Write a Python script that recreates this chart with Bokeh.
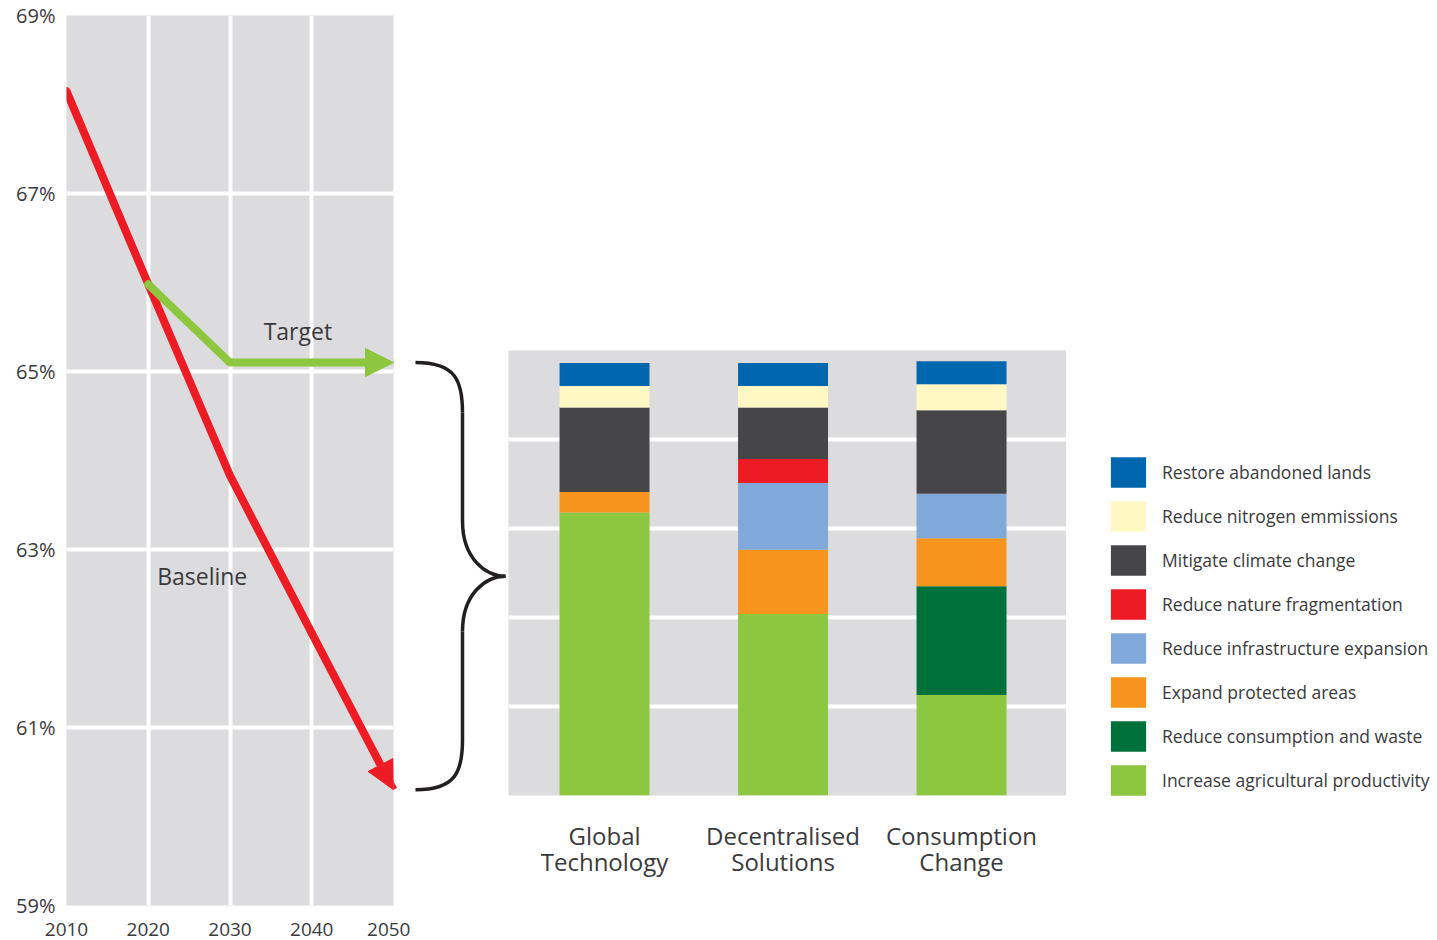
from bokeh.plotting import figure
from bokeh.models import (Range1d, FixedTicker, Arrow, NormalHead, Legend,
                          LegendItem, ColumnDataSource)
from bokeh.layouts import row
from bokeh.embed import file_html
from bokeh.resources import INLINE
from bokeh.core.properties import value

FONT = "Open Sans"
TEXT = "#3a3a3c"
BG = "#dcdcde"
RED = "#ed1c24"
LIME = "#8dc63f"

# ---------------- data: left panel ----------------
years = [2010, 2020, 2030, 2040, 2050]
baseline = [68.15, 65.98, 63.83, 62.06, 60.30]
target_years = [2020, 2030, 2040, 2050]
target = [65.98, 65.10, 65.10, 65.10]
y_ticks = [59, 61, 63, 65, 67, 69]
y_tick_labels = ["59%", "61%", "63%", "65%", "67%", "69%"]
x_ticks = [2010, 2020, 2030, 2040, 2050]
x_grid = [2020, 2030, 2040]
y_grid = [61, 63, 65, 67]
target_label_pos = (2038.3, 65.45)
baseline_label_pos = (2026.6, 62.70)

# ---------------- data: stacked bars ----------------
scenarios = ["Global\nTechnology", "Decentralised\nSolutions", "Consumption\nChange"]
# bottom-up stacking order
measures = ["Increase agricultural productivity", "Reduce consumption and waste",
            "Expand protected areas", "Reduce infrastructure expansion",
            "Reduce nature fragmentation", "Mitigate climate change",
            "Reduce nitrogen emmissions", "Restore abandoned lands"]
agriculture = [3.18, 2.04, 1.13]
consumption = [0.00, 0.00, 1.22]
protected = [0.23, 0.72, 0.54]
infrastructure = [0.00, 0.75, 0.50]
fragmentation = [0.00, 0.27, 0.00]
climate = [0.95, 0.58, 0.94]
nitrogen = [0.24, 0.24, 0.29]
restore = [0.26, 0.26, 0.26]
colors = ["#8dc63f", "#00713a", "#f7941d", "#80a8d8",
          "#ed1c24", "#464648", "#fff8c4", "#0066ae"]
bar_grid = [1, 2, 3, 4]

H = 940
W1, W2, W4 = 410, 98, 371
W3 = 1437 - W1 - W2 - W4

# ---------------- left: line chart ----------------
p1 = figure(width=W1, height=H, x_range=Range1d(2010, 2050), y_range=Range1d(59, 69),
            output_backend="svg", toolbar_location=None, frame_align=False,
            min_border_left=66, min_border_right=17, min_border_top=15, min_border_bottom=35)
p1.background_fill_color = BG
p1.border_fill_color = "white"
p1.outline_line_color = None
p1.xaxis.ticker = FixedTicker(ticks=x_ticks)
p1.yaxis.ticker = FixedTicker(ticks=y_ticks)
p1.yaxis.major_label_overrides = {t: l for t, l in zip(y_ticks, y_tick_labels)}
for ax in p1.axis:
    ax.axis_line_color = None
    ax.major_tick_line_color = None
    ax.minor_tick_line_color = None
    ax.major_label_text_font = FONT
    ax.major_label_text_color = TEXT
p1.xaxis.major_label_text_font_size = "19px"
p1.yaxis.major_label_text_font_size = "20px"
p1.xaxis.major_label_standoff = 11
p1.yaxis.major_label_standoff = 5
p1.xgrid.ticker = FixedTicker(ticks=x_grid)
p1.ygrid.ticker = FixedTicker(ticks=y_grid)
p1.grid.grid_line_color = "white"
p1.grid.grid_line_width = 4

p1.line(years[:-1], baseline[:-1], line_color=RED, line_width=8,
        line_cap="round", line_join="round")
p1.add_layout(Arrow(end=NormalHead(size=28, fill_color=RED, line_color=RED),
                    x_start=years[-2], y_start=baseline[-2],
                    x_end=years[-1], y_end=baseline[-1],
                    line_color=RED, line_width=8))
p1.line(target_years[:-1], target[:-1], line_color=LIME, line_width=8,
        line_cap="round", line_join="round")
p1.add_layout(Arrow(end=NormalHead(size=28, fill_color=LIME, line_color=LIME),
                    x_start=target_years[-2], y_start=target[-2],
                    x_end=target_years[-1], y_end=target[-1],
                    line_color=LIME, line_width=8))
p1.text(x=[target_label_pos[0], baseline_label_pos[0]],
        y=[target_label_pos[1], baseline_label_pos[1]],
        text=["Target", "Baseline"], text_font=value(FONT), text_font_size="23px",
        text_color=TEXT, text_align="center", text_baseline="middle")

# ---------------- middle: brace ----------------
top, bot = target[-1], baseline[-1]
mid = (top + bot) / 2
p2 = figure(width=W2, height=H, x_range=Range1d(0, W2), y_range=Range1d(59, 69),
            output_backend="svg", toolbar_location=None, frame_align=False,
            x_axis_location=None, y_axis_location=None,
            min_border_left=0, min_border_right=0, min_border_top=15, min_border_bottom=35)
p2.grid.visible = False
p2.outline_line_color = None
p2.background_fill_color = "white"
xl, xm, xt = 5, 52, 95
hk, tc = 0.56, 0.62
BR = "#231f20"
p2.bezier(x0=[xl, xm, xt, xm], y0=[top, mid + tc, mid, bot + hk],
          x1=[xm, xt, xm, xl], y1=[top - hk, mid, mid - tc, bot],
          cx0=[45, xm, 75, xm], cy0=[top, mid + 0.2, mid, bot + 0.2],
          cx1=[xm, 75, xm, 45], cy1=[top - 0.2, mid, mid - 0.2, bot],
          line_color=BR, line_width=3.5)
p2.segment(x0=[xm, xm], y0=[top - hk, mid - tc], x1=[xm, xm], y1=[mid + tc, bot + hk],
           line_color=BR, line_width=3.5)

# ---------------- right: stacked bars ----------------
src = ColumnDataSource(dict(
    x=[0, 1, 2],
    agriculture=agriculture, consumption=consumption, protected=protected,
    infrastructure=infrastructure, fragmentation=fragmentation, climate=climate,
    nitrogen=nitrogen, restore=restore))
keys = ["agriculture", "consumption", "protected", "infrastructure",
        "fragmentation", "climate", "nitrogen", "restore"]

p3 = figure(width=W3, height=H, x_range=Range1d(-0.538, 2.588),
            y_range=Range1d(0, 5), output_backend="svg", toolbar_location=None,
            y_axis_location=None, frame_align=False,
            min_border_left=0, min_border_right=0,
            min_border_top=350, min_border_bottom=145)
p3.background_fill_color = BG
p3.border_fill_color = "white"
p3.outline_line_color = None
p3.xgrid.visible = False
p3.ygrid.ticker = FixedTicker(ticks=bar_grid)
p3.ygrid.grid_line_color = "white"
p3.ygrid.grid_line_width = 4
p3.xaxis.ticker = FixedTicker(ticks=[0, 1, 2])
p3.xaxis.major_label_overrides = {i: s for i, s in enumerate(scenarios)}
p3.xaxis.axis_line_color = None
p3.xaxis.major_tick_line_color = None
p3.xaxis.minor_tick_line_color = None
p3.xaxis.major_label_text_font = FONT
p3.xaxis.major_label_text_font_size = "24px"
p3.xaxis.major_label_text_color = TEXT
p3.xaxis.major_label_text_line_height = 0.8
p3.xaxis.major_label_standoff = 17

p3.vbar_stack(keys, x="x", width=0.504, color=colors, line_width=0, source=src)

# ---------------- legend panel ----------------
p4 = figure(width=W4, height=H, x_range=Range1d(0, 1), y_range=Range1d(0, 1),
            output_backend="svg", toolbar_location=None, frame_align=False,
            x_axis_location=None, y_axis_location=None,
            min_border_left=0, min_border_right=0, min_border_top=0, min_border_bottom=0)
p4.grid.visible = False
p4.outline_line_color = None
p4.background_fill_color = "white"
items = []
nan = float("nan")
for m, c in zip(measures, colors):
    r = p4.vbar(x=[nan], top=[nan], width=0.5, color=c, line_width=0)
    items.append(LegendItem(label=m, renderers=[r]))
legend = Legend(items=items[::-1], location=(40, 141), glyph_width=44, glyph_height=38,
                label_standoff=12, spacing=6, padding=0, margin=0,
                border_line_color=None, background_fill_alpha=0,
                label_text_font=FONT, label_text_font_size="17.5px",
                label_text_color=TEXT)
p4.add_layout(legend)

layout = row(p1, p2, p3, p4, spacing=0)
open("out.html", "w").write(file_html(layout, INLINE))
